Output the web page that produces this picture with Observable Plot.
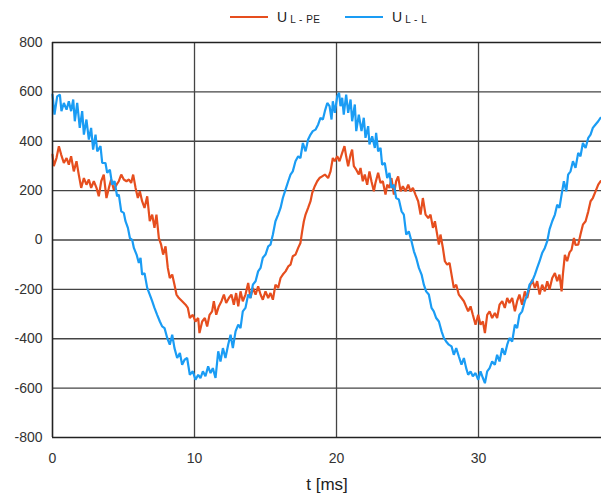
<!DOCTYPE html>
<html>
<head>
<meta charset="utf-8">
<script src="https://cdn.jsdelivr.net/npm/d3@7"></script>
<script src="https://cdn.jsdelivr.net/npm/@observablehq/plot@0.6"></script>
<style>
  html, body { margin: 0; padding: 0; background: #fff; }
  body { font-family: "Liberation Sans", Arial, sans-serif; }
  #wrap { position: relative; width: 601px; height: 499px; overflow: hidden; }
  #legend { position: absolute; left: 0; top: 0; width: 601px; height: 30px; }
  .item { position: absolute; top: 9px; font-size: 14px; color: #222; white-space: nowrap; }
  .item .sw { display: inline-block; width: 38px; height: 0; border-top: 2px solid; vertical-align: middle; margin-right: 9px; position: relative; top: -1px; }
  .item sub { font-size: 10px; vertical-align: -1px; margin-left: 3px; letter-spacing: 0.5px; }
  #chart { position: absolute; left: 0; top: 30px; }
</style>
</head>
<body>
<div id="wrap">
  <div id="legend"></div>
  <div id="chart"></div>
</div>
<script>
// Series names and colours
const seriesNames = ["U L-PE", "U L-L"];
const seriesSubs = ["L - PE", "L - L"];
const seriesColors = ["#e64e1e", "#1a9cf4"];

// U L-PE (red) : time [ms] and voltage
const tPE = [0,0.09,0.28,0.45,0.61,0.80,0.99,1.15,1.31,1.50,1.69,1.85,2.02,2.21,2.39,2.56,2.72,2.91,3.10,3.26,3.43,3.61,3.80,3.97,4.13,4.32,4.51,4.67,4.84,5.02,5.21,5.38,5.54,5.68,5.85,6.01,6.15,6.31,6.48,6.67,6.85,7.02,7.18,7.32,7.49,7.65,7.79,7.96,8.12,8.26,8.43,8.59,8.73,8.90,9.13,9.37,9.53,9.67,
9.88,10.07,10.26,10.35,10.54,10.73,10.89,11.06,11.24,11.36,11.53,11.71,11.90,12.07,12.23,12.42,12.60,12.77,12.93,13.08,13.24,13.40,13.59,13.78,13.94,14.11,14.30,14.48,14.65,14.81,15.0,15.19,15.35,15.52,15.70,15.89,16.06,16.22,16.41,16.60,16.76,16.92,17.11,17.30,17.46,17.58,17.70,17.82,18.0,18.17,18.29,18.47,18.64,18.80,18.99,19.18,
19.41,19.58,19.74,19.88,20.05,20.21,20.40,20.56,20.68,20.82,20.99,21.10,21.22,21.39,21.57,21.69,21.85,21.99,22.16,22.32,22.46,22.63,22.74,22.93,23.10,23.26,23.45,23.57,23.73,23.87,24.04,24.20,24.34,24.51,24.67,24.86,25.05,25.21,25.38,25.56,25.75,25.92,26.08,26.27,26.46,26.62,26.79,26.93,27.09,27.21,27.32,27.49,27.63,27.79,27.96,28.10,28.26,28.43,28.61,28.80,28.97,
29.27,29.44,29.60,29.79,29.98,30.14,30.31,30.45,30.61,30.78,30.96,31.15,31.31,31.48,31.67,31.85,32.02,32.18,32.37,32.56,32.72,32.88,33.07,33.26,33.43,33.59,33.78,33.97,34.13,34.30,34.48,34.67,34.84,35.0,35.19,35.38,35.54,35.70,35.85,35.94,36.08,36.24,36.41,36.55,36.72,36.83,37.02,37.18,37.35,37.54,37.73,37.89,38.05,38.24,38.43,38.59];
const uPE = [346,299,332,380,346,312,332,305,339,278,319,265,211,251,224,245,211,238,211,177,238,265,170,211,245,204,224,238,265,245,238,245,231,265,211,170,197,157,130,177,76,103,49,103,8,-19,-59,-26,-113,-154,-140,-181,-221,-235,-248,-262,-275,-316,
-303,-330,-316,-377,-330,-316,-350,-303,-289,-248,-303,-269,-248,-221,-255,-235,-221,-262,-215,-269,-208,-248,-221,-174,-235,-194,-221,-188,-221,-242,-208,-235,-215,-242,-181,-194,-154,-140,-127,-107,-100,-66,-59,-32,-12,35,76,103,130,157,191,218,238,251,258,265,
251,278,332,319,339,319,353,380,339,299,346,366,299,285,265,292,238,265,224,278,238,197,231,272,231,238,184,224,211,251,184,238,258,197,218,197,224,197,211,184,157,103,170,103,89,103,49,76,22,-19,22,-32,-86,-100,-93,-140,-194,-181,-221,-235,-248,
-289,-269,-303,-343,-303,-343,-330,-377,-303,-289,-316,-296,-316,-262,-248,-275,-235,-255,-235,-289,-248,-221,-262,-208,-235,-194,-161,-194,-167,-221,-181,-208,-167,-201,-154,-134,-167,-140,-208,-140,-60,-86,-50,-40,8,-20,-19,22,62,76,116,157,170,197,224,238];

// U L-L (blue) : time [ms] and voltage
const tLL = [0,0.14,0.33,0.52,0.63,0.80,0.99,1.15,1.31,1.46,1.57,1.74,1.92,2.09,2.21,2.39,2.56,2.72,2.86,3.03,3.15,3.38,3.50,3.73,3.85,4.04,4.20,4.37,4.55,4.67,4.84,5.02,5.14,5.31,5.45,5.61,5.73,5.92,6.08,6.20,6.31,6.48,6.67,6.85,7.02,7.18,7.37,7.56,7.72,7.89,8.08,8.26,8.43,8.59,8.78,8.97,9.13,9.30,9.48,9.67,
9.88,10.07,10.26,10.42,10.59,10.77,10.96,11.13,11.29,11.48,11.67,11.83,12.0,12.18,12.37,12.54,12.70,12.89,13.08,13.24,13.40,13.59,13.78,13.94,14.11,14.30,14.48,14.65,14.81,15.0,15.19,15.35,15.52,15.70,15.89,16.06,16.22,16.41,16.60,16.76,16.92,17.11,17.30,17.46,17.63,17.82,18.0,18.17,18.33,18.52,18.71,18.87,19.04,19.18,19.35,
19.51,19.65,19.74,19.88,20.05,20.18,20.28,20.40,20.51,20.68,20.82,20.99,21.10,21.29,21.39,21.57,21.76,21.92,22.04,22.23,22.32,22.51,22.70,22.79,22.93,23.10,23.21,23.40,23.57,23.73,23.87,24.04,24.20,24.39,24.58,24.74,24.91,25.09,25.28,25.45,25.61,25.80,25.99,26.15,26.31,26.50,26.69,26.85,27.02,27.21,27.40,27.56,27.72,27.91,28.10,28.26,28.43,28.61,28.80,28.97,29.13,
29.27,29.44,29.60,29.79,29.98,30.14,30.31,30.45,30.61,30.78,30.96,31.15,31.31,31.48,31.67,31.85,32.02,32.18,32.37,32.56,32.72,32.88,33.07,33.26,33.43,33.59,33.78,33.97,34.13,34.30,34.48,34.67,34.84,35.0,35.19,35.38,35.54,35.70,35.85,36.01,36.18,36.31,36.48,36.65,36.83,37.02,37.18,37.35,37.54,37.73,37.89,38.05,38.24,38.43,38.59];
const uLL = [589,508,582,589,522,555,528,562,522,569,481,555,454,522,427,488,407,454,366,427,359,380,312,312,272,285,224,238,177,184,116,110,76,49,8,1,-32,-59,-93,-72,-140,-134,-194,-221,-248,-275,-303,-330,-350,-357,-397,-424,-384,-438,-478,-458,-505,-485,-478,-546,
-532,-566,-546,-559,-532,-552,-512,-539,-519,-559,-451,-492,-438,-478,-424,-384,-438,-370,-343,-357,-289,-275,-221,-235,-181,-167,-127,-113,-72,-59,-26,-19,22,76,103,130,170,204,238,265,278,319,339,332,393,359,407,427,441,447,468,495,488,522,555,
542,488,562,515,582,596,542,576,508,589,515,569,481,549,441,508,441,495,414,461,387,420,373,434,359,373,305,312,251,272,211,224,170,164,116,103,22,35,-5,-46,-72,-113,-140,-181,-208,-221,-275,-289,-316,-330,-370,-397,-411,-424,-431,-465,-438,-471,-505,-478,-519,
-546,-532,-552,-539,-566,-532,-559,-580,-532,-519,-492,-505,-465,-492,-438,-465,-424,-397,-411,-343,-357,-303,-289,-248,-221,-181,-167,-140,-113,-86,-53,-32,-5,43,76,103,143,130,184,238,197,265,278,319,292,353,339,393,373,414,427,454,468,481,495];

// Axis ticks
const xTicks = [0, 10, 20, 30];
const yTicks = [-800, -600, -400, -200, 0, 200, 400, 600, 800];
const xLabel = "t [ms]";

// Build table
const rows = [];
tPE.forEach((t, i) => rows.push({series: seriesNames[0], t, u: uPE[i]}));
tLL.forEach((t, i) => rows.push({series: seriesNames[1], t, u: uLL[i]}));

// Legend
const legend = document.getElementById("legend");
const legendX = [230, 345];
seriesNames.forEach((n, i) => {
  const d = document.createElement("div");
  d.className = "item";
  d.style.left = legendX[i] + "px";
  d.innerHTML = `<span class="sw" style="border-color:${seriesColors[i]}"></span>U<sub>${seriesSubs[i]}</sub>`;
  legend.appendChild(d);
});

const chart = Plot.plot({
  width: 601,
  height: 469,
  marginTop: 12,
  marginBottom: 62,
  marginLeft: 52,
  marginRight: 0,
  style: {fontFamily: "'Liberation Sans', Arial, sans-serif", fontSize: "14px", color: "#333"},
  x: {domain: [0, 38.66]},
  y: {domain: [-800, 800]},
  color: {domain: seriesNames, range: seriesColors},
  marks: [
    Plot.ruleY(yTicks.filter(v => v > -800 && v < 800), {stroke: "#444", strokeWidth: 1.3}),
    Plot.ruleX(xTicks.filter(v => v > 0), {stroke: "#444", strokeWidth: 1.3}),
    Plot.ruleY([800], {stroke: "#222", strokeWidth: 1.3}),
    Plot.line(rows, {x: "t", y: "u", z: "series", stroke: "series", strokeWidth: 2.2, strokeLinejoin: "miter", curve: "linear"}),
    Plot.ruleY([-800], {stroke: "#222", strokeWidth: 1.6}),
    Plot.ruleX([0], {stroke: "#222", strokeWidth: 1.6}),
    Plot.axisX({ticks: xTicks, tickSize: 0, tickPadding: 16, tickFormat: d => String(d), fontSize: 14, label: null}),
    Plot.axisY({ticks: yTicks, tickSize: 0, tickPadding: 10, tickFormat: d => String(d), fontSize: 14, label: null}),
    Plot.text([xLabel], {frameAnchor: "bottom", dy: 52, fontSize: 17, fill: "#222"})
  ]
});
document.getElementById("chart").appendChild(chart);
</script>
</body>
</html>
